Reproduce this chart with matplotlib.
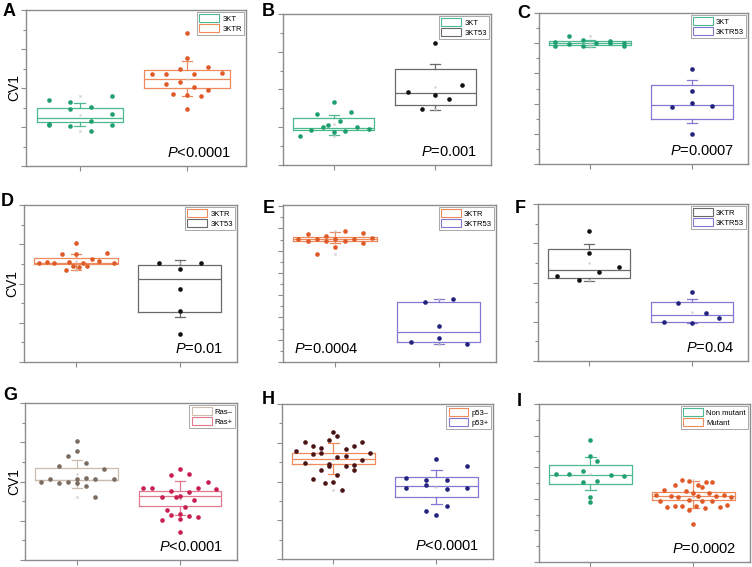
import numpy as np
import matplotlib.pyplot as plt
from matplotlib.patches import Patch
from matplotlib.ticker import MultipleLocator, NullFormatter

plt.rcParams['font.family'] = ['Liberation Sans', 'DejaVu Sans']
plt.rcParams['mathtext.fontset'] = 'custom'
plt.rcParams['mathtext.it'] = 'Liberation Sans:italic'
plt.rcParams['mathtext.rm'] = 'Liberation Sans'

# ---- data (arbitrary CV1 units) ----
# box lists are: q1, median, q3, whisker low, whisker high
# A
a_kt = [3.41, 2.17, 2.12, 3.28, 2.94, 2.06, 3.02, 2.30, 1.79, 3.57, 2.66, 2.10]
a_kt_dx = [-0.29, -0.29, -0.29, -0.09, -0.09, -0.09, 0.11, 0.11, 0.11, 0.30, 0.30, 0.30]
a_kt_box = [2.27, 2.47, 2.97, 2.03, 3.23]
a_ktr = [6.81, 5.53, 4.71, 4.74, 4.97, 4.71, 5.07, 4.78, 4.22, 4.32, 4.04, 3.91, 3.70, 3.65, 3.58, 2.90]
a_ktr_dx = [0, 0, -0.33, -0.195, -0.063, 0.066, 0.20, 0.33, -0.195, -0.063, 0.066, 0.20, -0.13, 0, 0.135, 0]
a_ktr_box = [3.99, 4.45, 4.91, 3.58, 5.38]
# B
b_kt = [1.54, 1.84, 2.72, 2.0, 2.12, 3.32, 1.74, 2.33, 1.79, 2.79, 2.0, 1.93]
b_kt_dx = [-0.335, -0.22, -0.166, -0.11, -0.054, 0, 0, 0.06, 0.115, 0.17, 0.23, 0.345]
b_kt_box = [1.84, 1.96, 2.47, 1.58, 2.67]
b_kt53 = [6.46, 4.25, 3.88, 3.72, 3.51, 2.98]
b_kt53_dx = [0, 0.265, -0.265, 0, 0.134, -0.134]
b_kt53_box = [3.16, 3.79, 5.09, 2.93, 5.35]
# C
c_kt = [8.08, 7.80, 8.50, 7.95, 8.19, 7.80, 8.02, 8.13, 8.0, 8.04, 7.80]
c_kt_dx = [-0.34, -0.34, -0.206, -0.206, -0.07, -0.07, 0.063, 0.2, 0.2, 0.333, 0.333]
c_kt_box = [7.91, 8.02, 8.13, 7.75, 8.24]
c_ktr53 = [6.28, 4.82, 4.05, 3.77, 3.85, 1.96]
c_ktr53_dx = [0, 0, 0, -0.2, 0.2, 0]
c_ktr53_box = [3.0, 3.94, 5.24, 2.73, 5.53]
# D
d_ktr = [6.04, 5.49, 5.49, 5.56, 5.24, 5.14, 5.02, 5.09, 5.02, 5.10, 5.05, 5.02, 4.90, 4.83, 4.90, 4.69]
d_ktr_dx = [0, -0.138, 0, 0.298, 0.157, 0.226, -0.355, -0.277, -0.21, -0.066, 0.07, 0.367, -0.025, 0.03, 0.11, -0.097]
d_ktr_box = [4.98, 5.07, 5.31, 4.71, 5.51]
d_kt53 = [5.03, 5.02, 4.74, 3.74, 2.62, 1.43]
d_kt53_dx = [-0.2, 0.2, 0, 0, 0, 0]
d_kt53_box = [2.55, 4.23, 4.93, 2.30, 5.22]
# E
e_ktr = [11.05, 11.53, 10.9, 11.05, 9.70, 11.29, 10.84, 11.05, 10.36, 11.74, 10.9, 11.05, 11.59, 10.66, 11.14]
e_ktr_dx = [-0.352, -0.258, -0.258, -0.173, -0.173, -0.085, -0.085, 0, 0, 0.094, 0.094, 0.182, 0.27, 0.27, 0.358]
e_ktr_box = [10.84, 11.05, 11.23, 10.66, 11.65]
e_ktr53 = [5.38, 5.68, 3.27, 1.83, 2.16, 1.65]
e_ktr53_dx = [-0.132, 0.132, 0, -0.267, 0, 0.267]
e_ktr53_box = [1.77, 2.70, 5.35, 1.65, 5.65]
# F
f_ktr = [6.64, 5.51, 4.78, 4.51, 4.33, 4.15]
f_ktr_dx = [0, 0, 0.293, 0.095, -0.31, -0.104]
f_ktr_box = [4.22, 4.64, 5.73, 4.06, 5.94]
f_ktr53 = [3.53, 2.97, 2.44, 2.18, 1.98, 1.95]
f_ktr53_dx = [0, -0.132, 0.136, 0.27, -0.27, 0]
f_ktr53_box = [1.99, 2.32, 3.0, 1.93, 3.14]
# G
g_neg = [6.05, 5.56, 5.32, 4.92, 4.77, 4.65, 4.14, 4.0, 4.0, 4.14, 4.17, 4.14, 4.15, 3.90, 3.90, 3.79, 3.21]
g_neg_dx = [0, 0, -0.085, 0.09, -0.174, 0.268, -0.262, -0.35, -0.085, 0, 0.09, 0.18, 0.356, -0.174, 0, 0.09, 0.18]
g_neg_box = [4.07, 4.10, 4.68, 3.68, 5.08]
g_pos = [4.65, 4.32, 4.39, 3.68, 3.68, 3.68, 3.95, 3.64, 3.54, 3.47, 3.21, 3.20, 3.26, 3.04, 2.70,
         2.53, 2.29, 2.32, 2.24, 2.21, 2.05, 2.09, 1.44]
g_pos_dx = [0, -0.09, 0.09, -0.36, -0.27, 0.177, 0.265, 0.35, -0.09, 0.09, -0.18, -0.044, 0, 0.13, 0.044,
            -0.13, -0.09, 0, 0.09, 0.177, -0.18, 0, 0]
g_pos_box = [2.77, 3.25, 3.50, 2.29, 4.02]
# H
h_neg = [6.53, 6.36, 6.05, 6.12, 6.02, 5.81, 5.74, 5.84, 5.57, 5.43, 5.48, 5.66, 5.48, 5.26, 5.31, 5.12,
         4.95, 4.88, 4.78, 4.79, 4.86, 4.59, 4.57, 4.34, 4.14, 3.98, 3.91, 3.55]
h_neg_dx = [-0.006, 0.032, -0.28, -0.044, 0.28, -0.2, -0.124, 0.197, -0.36, -0.2, -0.124, 0.117, 0.356, 0.032,
            0.117, 0.273, -0.28, -0.044, -0.044, 0.117, 0.197, -0.124, 0.197, 0.032, -0.2, -0.006, -0.083, 0.083]
h_neg_box = [4.88, 5.16, 5.47, 4.40, 5.98]
h_pos = [5.17, 4.79, 4.16, 4.09, 4.10, 3.83, 3.64, 3.62, 3.67, 2.76, 2.48, 2.26]
h_pos_dx = [0, 0.3, -0.3, -0.1, 0.1, -0.1, -0.3, 0.1, 0.3, 0.1, -0.1, 0]
h_pos_box = [3.22, 3.78, 4.21, 2.86, 4.59]
# I
i_non = [7.70, 6.72, 6.38, 5.60, 5.60, 5.79, 5.49, 5.43, 5.04, 5.13, 4.13, 3.79]
i_non_dx = [0, 0, 0.063, -0.337, -0.205, -0.07, 0.2, 0.33, -0.07, 0.063, 0, 0]
i_non_box = [4.96, 5.53, 6.15, 4.55, 6.66]
i_mut = [5.21, 5.15, 5.06, 5.06, 4.87, 4.87, 4.74, 4.55, 4.49, 4.36, 4.36, 4.26, 4.17, 4.13, 4.17, 4.19,
         4.23, 4.11, 3.85, 3.91, 3.89, 3.87, 3.49, 3.55, 3.57, 3.53, 3.51, 3.62, 3.30, 3.43, 2.38]
i_mut_dx = [-0.107, -0.038, 0.12, 0.183, -0.177, 0.041, 0.079, -0.29, -0.07, 0, 0.151, -0.36, -0.22, -0.148,
            0.041, 0.22, 0.293, 0.366, -0.328, -0.047, 0.079, 0.183, -0.252, -0.18, -0.107, 0.025, 0.256,
            0.33, -0.038, 0.114, 0]
i_mut_box = [3.91, 4.17, 4.40, 3.40, 5.11]

p_texts = ['<0.0001', '=0.001', '=0.0007', '=0.01', '=0.0004', '=0.04', '<0.0001', '<0.0001', '=0.0002']

# colours: (dot, box)
GREEN = ('#1f9e6e', '#4cba8e')
ORANGE = ('#e05a28', '#ef8a5c')
BLACK = ('#111111', '#6a6a6a')
PURPLE = ('#23237e', '#8479d2')
RASN = ('#7a6c60', '#cbbcae')
RASP = ('#c81e50', '#e2788c')
P53N = ('#4a1414', '#ef8a5c')

# panel boxes in pixels: left, top, right, bottom
panels = [
    ('A', (26, 10, 246, 166), 8, [(a_kt, a_kt_dx, a_kt_box, GREEN, '3KT'),
                                  (a_ktr, a_ktr_dx, a_ktr_box, ORANGE, '3KTR')]),
    ('B', (283, 14, 491, 165), 8, [(b_kt, b_kt_dx, b_kt_box, GREEN, '3KT'),
                                   (b_kt53, b_kt53_dx, b_kt53_box, BLACK, '3KT53')]),
    ('C', (539, 13, 748, 164), 10, [(c_kt, c_kt_dx, c_kt_box, GREEN, '3KT'),
                                    (c_ktr53, c_ktr53_dx, c_ktr53_box, PURPLE, '3KTR53')]),
    ('D', (24, 205, 237, 362), 8, [(d_ktr, d_ktr_dx, d_ktr_box, ORANGE, '3KTR'),
                                   (d_kt53, d_kt53_dx, d_kt53_box, BLACK, '3KT53')]),
    ('E', (283, 205, 496, 362), 14.1, [(e_ktr, e_ktr_dx, e_ktr_box, ORANGE, '3KTR'),
                                       (e_ktr53, e_ktr53_dx, e_ktr53_box, PURPLE, '3KTR53')]),
    ('F', (538, 204, 748, 361), 8, [(f_ktr, f_ktr_dx, f_ktr_box, BLACK, '3KTR'),
                                    (f_ktr53, f_ktr53_dx, f_ktr53_box, PURPLE, '3KTR53')]),
    ('G', (25, 403, 237, 560), 8, [(g_neg, g_neg_dx, g_neg_box, RASN, 'Ras\u2013'),
                                   (g_pos, g_pos_dx, g_pos_box, RASP, 'Ras+')]),
    ('H', (282, 404, 493, 559), 8, [(h_neg, h_neg_dx, h_neg_box, P53N, 'p53\u2013'),
                                    (h_pos, h_pos_dx, h_pos_box, PURPLE, 'p53+')]),
    ('I', (539, 404, 750, 562), 10, [(i_non, i_non_dx, i_non_box, GREEN, 'Non mutant'),
                                     (i_mut, i_mut_dx, i_mut_box, ORANGE, 'Mutant')]),
]
letter_pos = [(3, 3), (262, 3), (517, 5), (1, 193), (263, 200), (515, 200), (3, 387), (262, 391), (517, 393)]

W, H = 752, 567
fig = plt.figure(figsize=(W / 100, H / 100), dpi=100)
spine_c = '#8c8c8c'

for k, (letter, (l, t, r, b), ymax, groups) in enumerate(panels):
    ax = fig.add_axes([l / W, 1 - b / H, (r - l) / W, (b - t) / H])
    handles = []
    for i, (vals, dx, bx, (dotc, boxc), lab) in enumerate(groups):
        pos = i + 1
        st = dict(q1=bx[0], med=bx[1], q3=bx[2], whislo=bx[3], whishi=bx[4],
                  mean=np.mean(vals), fliers=[min(vals), max(vals)])
        lp = dict(color=boxc, lw=0.9)
        ax.bxp([st], positions=[pos], widths=0.8, capwidths=0.1, showmeans=True,
               boxprops=lp, medianprops=lp, whiskerprops=lp, capprops=lp,
               meanprops=dict(marker='s', markersize=1.8, markerfacecolor='#c8c8c8', markeredgecolor='none'),
               flierprops=dict(marker='x', markersize=1.6, markeredgecolor='#c8c8c8', markeredgewidth=0.6))
        ax.scatter(pos + np.array(dx), vals, s=11, color=dotc, lw=0, zorder=3)
        handles.append(Patch(facecolor='white', edgecolor=boxc, lw=0.8, label=lab))
    ax.set_xlim(0.5, 2.55)
    ax.set_ylim(0, ymax)
    ax.set_xticks([1, 2])
    ax.xaxis.set_major_formatter(NullFormatter())
    ax.yaxis.set_major_locator(MultipleLocator(2))
    ax.yaxis.set_minor_locator(MultipleLocator(1))
    ax.yaxis.set_major_formatter(NullFormatter())
    ax.tick_params(which='major', length=3.5, width=0.8, color=spine_c, direction='out')
    ax.tick_params(which='minor', length=2, width=0.8, color=spine_c, direction='out')
    ax.tick_params(axis='x', which='minor', length=0)
    for s in ax.spines.values():
        s.set_color(spine_c)
        s.set_linewidth(1.0)
    leg = ax.legend(handles=handles, loc='upper right', fontsize=5.5, handlelength=2.6, handleheight=1.2,
                    borderpad=0.3, labelspacing=0.2, handletextpad=0.4, borderaxespad=0.25,
                    fancybox=False, framealpha=1, edgecolor='#9a9a9a')
    leg.get_frame().set_linewidth(0.6)
    ptxt = r'$\it{P}$' + p_texts[k]
    if letter == 'E':
        ax.text(0.05, 0.04, ptxt, transform=ax.transAxes, ha='left', va='bottom', fontsize=10.5)
    else:
        ax.text(0.935, 0.04, ptxt, transform=ax.transAxes, ha='right', va='bottom', fontsize=10.5)
    if letter in 'ADG':
        ax.set_ylabel('CV1', fontsize=10)
        ax.yaxis.set_label_coords(-0.02, 0.5)
    lx, ly = letter_pos[k]
    fig.text(lx / W, 1 - ly / H, letter, fontsize=13, fontweight='bold', ha='left', va='top')

fig.savefig('out.png', dpi=100)
